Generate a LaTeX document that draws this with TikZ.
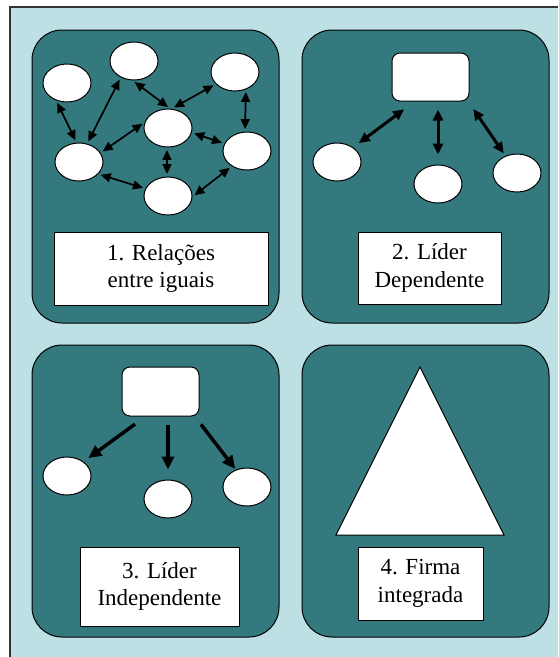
\documentclass[tikz,border=0pt]{standalone}
\usepackage{fontspec}
\setmainfont{Liberation Serif}
\usetikzlibrary{shapes.geometric,arrows.meta}
\definecolor{framebg}{RGB}{189,224,228}
\definecolor{paneldark}{RGB}{52,121,126}
\definecolor{framerule}{RGB}{50,50,50}
\begin{document}
\begin{tikzpicture}[x=1pt,y=-1pt,
  panel/.style={rectangle, draw=black, line width=1pt, fill=paneldark,
    rounded corners=30pt, minimum width=247pt, minimum height=293pt, inner sep=0pt},
  blob/.style={ellipse, draw=black, line width=1pt, fill=white,
    minimum width=48pt, minimum height=38pt, inner sep=0pt},
  chief/.style={rectangle, rounded corners=8pt, draw=black, line width=1pt, fill=white,
    minimum width=77pt, minimum height=48pt, inner sep=0pt},
  caption/.style={rectangle, draw=black, line width=0.8pt, fill=white, align=center,
    inner sep=0pt, font=\fontsize{23}{27.5}\selectfont},
  link/.style={{Triangle[length=10pt,width=9pt]}-{Triangle[length=10pt,width=9pt]},
    line width=1.7pt, shorten <=2.5pt, shorten >=2.5pt},
  boldlink/.style={{Triangle[length=11pt,width=10pt]}-{Triangle[length=11pt,width=10pt]},
    line width=3pt},
  order/.style={-{Triangle[length=13pt,width=12pt]}, line width=3.5pt}]

\useasboundingbox (0,0) rectangle (558,657);

% outer frame
\fill[framebg] (10,7) rectangle (558,657);
\draw[framerule, line width=1.8pt] (558,7) -- (10,7) -- (10,657);

% the four panels
\node[panel] (p1) at (155.5,176.5) {};
\node[panel] (p2) at (425.5,176.5) {};
\node[panel, minimum height=292pt] (p3) at (155.5,491) {};
\node[panel, minimum height=292pt] (p4) at (425.5,491) {};

% 1. network of equal partners
\node[blob] (a1) at (67,83) {};
\node[blob] (a2) at (134,61) {};
\node[blob] (a3) at (235,72) {};
\node[blob] (a4) at (168,128) {};
\node[blob] (a5) at (79,162) {};
\node[blob] (a6) at (247,151) {};
\node[blob] (a7) at (168,196) {};
\draw[link] (a1.238) -- (a5.97);
\draw[link] (a5.66) -- (a2.231);
\draw[link] (a2.266) -- (a4.84);
\draw[link] (a4.79) -- (a3.212);
\draw[link] (a3.302) -- (a6.96);
\draw[link] (a5.23) -- (a4.166);
\draw[link] (a4.349) -- (a6.162);
\draw[link] (a4.267) -- (a7.93);
\draw[link] (a5.328) -- (a7.162);
\draw[link] (a7.358) -- (a6.225);
\node[caption, minimum width=214pt, minimum height=73pt] (l1) at (161,268.5)
  {1. Relações\\entre iguais};

% 2. dependent leader
\node[chief] (r2) at (430.5,77) {};
\node[blob] (b1) at (337,162) {};
\node[blob] (b2) at (438,184) {};
\node[blob] (b3) at (517,173) {};
\draw[boldlink, shorten <=7pt, shorten >=13pt] (b1.42) -- (r2.237);
\draw[boldlink, shorten <=8pt, shorten >=10pt] (r2.south -| b2.north) -- (b2.north);
\draw[boldlink, shorten <=9pt, shorten >=3pt] (r2.327) -- (b3.124);
\node[caption, minimum width=143pt, minimum height=72pt] (l2) at (429.5,268)
  {2. Líder\\Dependente};

% 3. independent leader
\node[chief, minimum height=49pt] (r3) at (160.5,391.5) {};
\node[blob] (c1) at (67,476) {};
\node[blob] (c2) at (168,499) {};
\node[blob] (c3) at (247,487) {};
\draw[order, shorten <=13pt, shorten >=6pt] (r3.239) -- (c1.41);
\draw[order, shorten <=8pt, shorten >=10pt] (r3.south -| c2.north) -- (c2.north);
\draw[order, shorten <=10pt, shorten >=1pt] (r3.324) -- (c3.123);
\node[caption, minimum width=159pt, minimum height=79pt] (l3) at (159.5,586.5)
  {3. Líder\\Independente};

% 4. integrated firm
\coordinate (t1) at (420,367);
\coordinate (t2) at (336,535);
\coordinate (t3) at (504,535);
\draw[fill=white, line width=1pt, line join=miter] (t1) -- (t2) -- (t3) -- cycle;
\node[caption, minimum width=125pt, minimum height=73pt] (l4) at (420.5,583.5)
  {4. Firma\\integrada};

\end{tikzpicture}
\end{document}
